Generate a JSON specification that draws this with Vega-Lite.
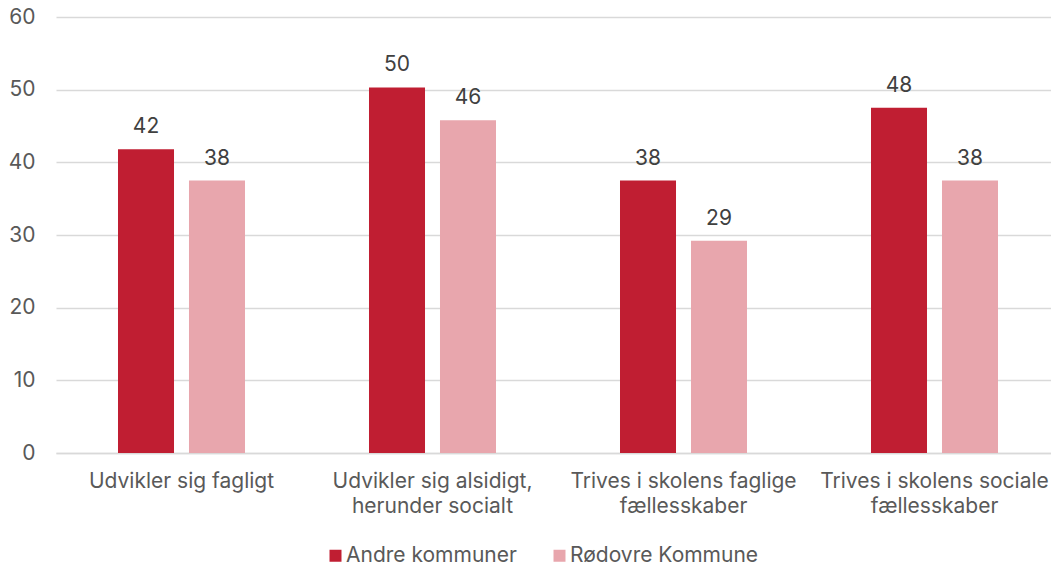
{
  "$schema": "https://vega.github.io/schema/vega-lite/v6.json",
  "width": 995,
  "height": 436,
  "autosize": {"type": "none"},
  "padding": {"left": 56, "top": 17, "right": 0, "bottom": 114},
  "config": {
    "font": "Inter",
    "view": {"stroke": null},
    "axis": {"labelFont": "Inter", "labelFontSize": 21, "labelColor": "#595959", "labelLimit": 0}
  },
  "data": {
    "values": [
      {"kategori": "Udvikler sig fagligt", "gruppe": "Andre kommuner", "andel": 41.8},
      {"kategori": "Udvikler sig fagligt", "gruppe": "Rødovre Kommune", "andel": 37.5},
      {"kategori": "Udvikler sig alsidigt, herunder socialt", "gruppe": "Andre kommuner", "andel": 50.3},
      {"kategori": "Udvikler sig alsidigt, herunder socialt", "gruppe": "Rødovre Kommune", "andel": 45.8},
      {"kategori": "Trives i skolens faglige fællesskaber", "gruppe": "Andre kommuner", "andel": 37.5},
      {"kategori": "Trives i skolens faglige fællesskaber", "gruppe": "Rødovre Kommune", "andel": 29.2},
      {"kategori": "Trives i skolens sociale fællesskaber", "gruppe": "Andre kommuner", "andel": 47.5},
      {"kategori": "Trives i skolens sociale fællesskaber", "gruppe": "Rødovre Kommune", "andel": 37.5}
    ]
  },
  "encoding": {
    "x": {
      "field": "kategori",
      "type": "nominal",
      "sort": null,
      "scale": {"range": [0, 1004], "paddingInner": 0.494, "paddingOuter": 0.247},
      "axis": {
        "title": null,
        "labelAngle": 0,
        "ticks": false,
        "domainColor": "#d9d9d9",
        "domainWidth": 1.5,
        "labelPadding": 17,
        "labelLineHeight": 25,
        "labelBaseline": "top",
        "labelOverlap": false,
        "labelExpr": "datum.label == 'Udvikler sig alsidigt, herunder socialt' ? ['Udvikler sig alsidigt,', 'herunder socialt'] : datum.label == 'Trives i skolens faglige fællesskaber' ? ['Trives i skolens faglige', 'fællesskaber'] : datum.label == 'Trives i skolens sociale fællesskaber' ? ['Trives i skolens sociale', 'fællesskaber'] : datum.label"
      }
    },
    "xOffset": {
      "field": "gruppe",
      "type": "nominal",
      "sort": ["Andre kommuner", "Rødovre Kommune"],
      "scale": {"paddingInner": 0.211, "paddingOuter": 0}
    },
    "y": {
      "field": "andel",
      "type": "quantitative",
      "scale": {"domain": [0, 60]},
      "axis": {
        "title": null,
        "values": [0, 10, 20, 30, 40, 50, 60],
        "labelOverlap": false,
        "domain": false,
        "ticks": false,
        "gridColor": "#d9d9d9",
        "gridWidth": 1.5,
        "labelPadding": 21
      }
    }
  },
  "layer": [
    {
      "mark": {"type": "bar"},
      "encoding": {
        "color": {
          "field": "gruppe",
          "type": "nominal",
          "scale": {"domain": ["Andre kommuner", "Rødovre Kommune"], "range": ["#C01E32", "#E8A6AD"]},
          "legend": {
            "title": null,
            "orient": "none",
            "direction": "horizontal",
            "legendX": 269,
            "legendY": 528,
            "symbolType": "square",
            "symbolSize": 144,
            "symbolStrokeWidth": 0,
            "labelFont": "Inter",
            "labelFontSize": 21,
            "labelColor": "#595959",
            "labelLimit": 0,
            "labelOffset": 0,
            "columnPadding": 32
          }
        }
      }
    },
    {
      "mark": {"type": "text", "baseline": "bottom", "dy": -12, "fontSize": 21, "font": "Inter", "color": "#404040"},
      "encoding": {
        "text": {"field": "andel", "type": "quantitative", "format": ".0f"}
      }
    }
  ]
}
